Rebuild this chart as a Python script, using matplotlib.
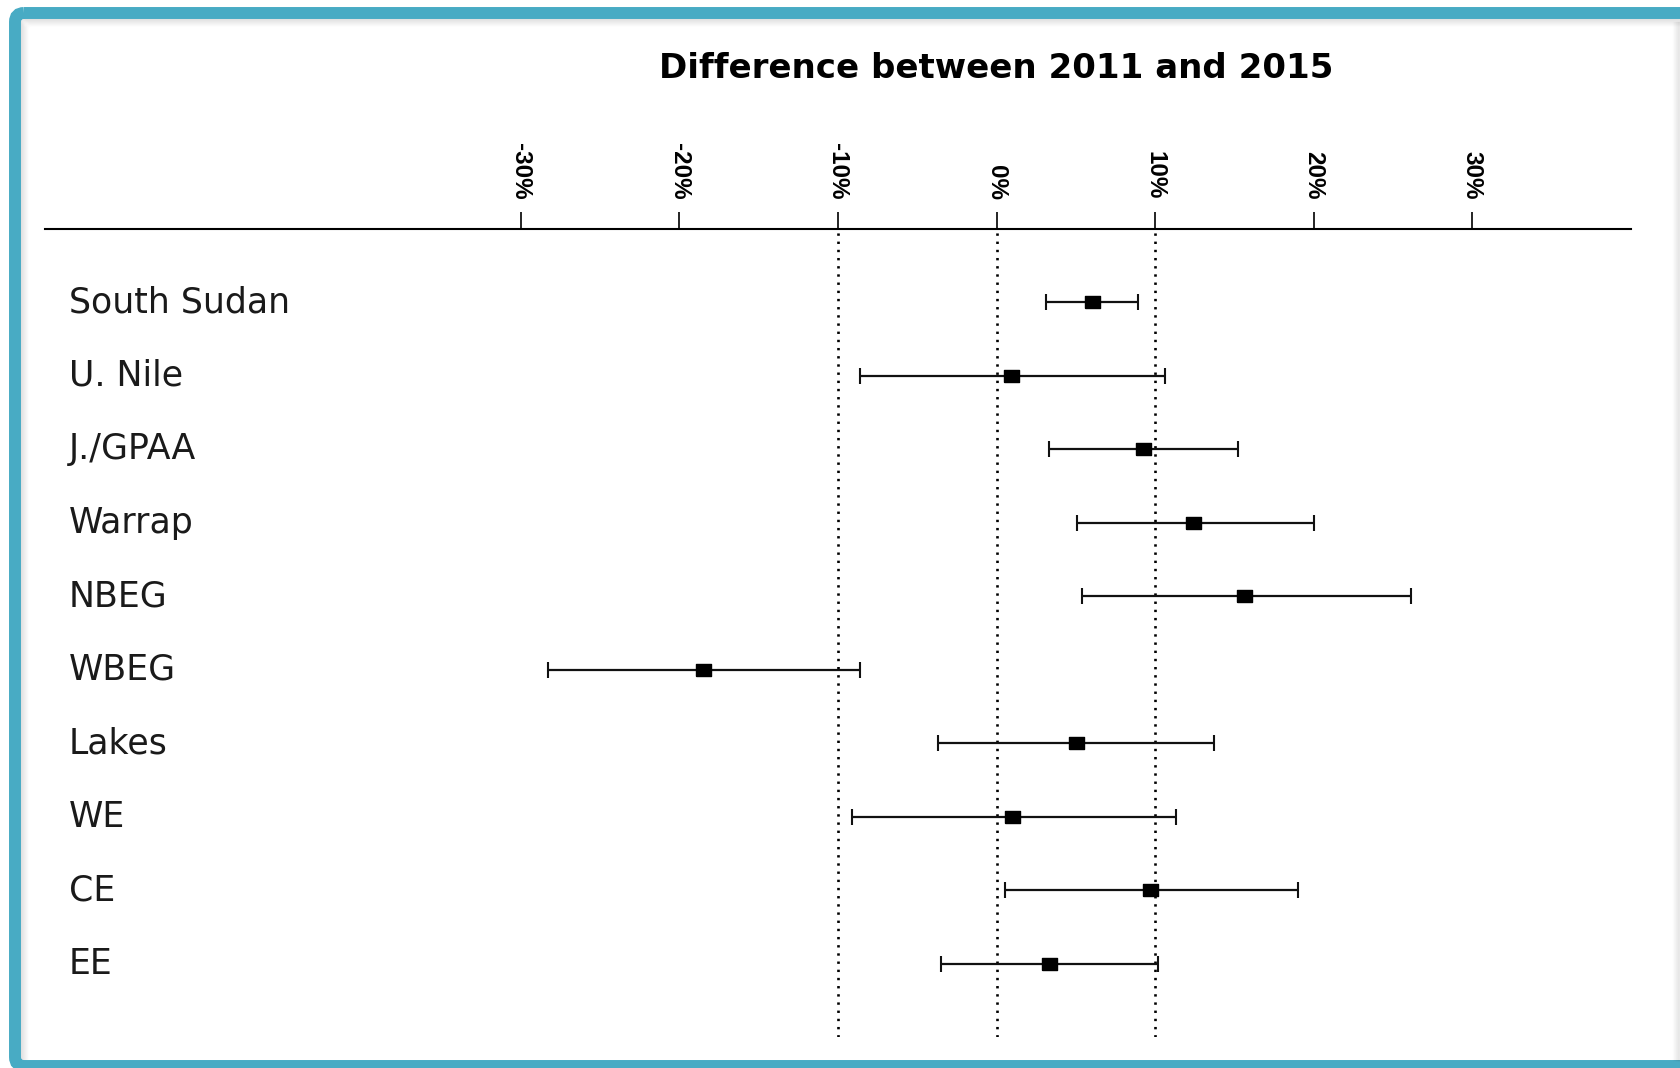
import matplotlib.pyplot as plt
import matplotlib.transforms as mtransforms
from matplotlib.patches import FancyBboxPatch
import numpy as np

# regions, top to bottom
regions = ['South Sudan', 'U. Nile', 'J./GPAA', 'Warrap', 'NBEG',
           'WBEG', 'Lakes', 'WE', 'CE', 'EE']

# percentage point change 2011 -> 2015 with confidence limits
diff = [6.0, 0.9, 9.2, 12.4, 15.6, -18.5, 5.0, 1.0, 9.7, 3.3]
lower = [3.1, -8.6, 3.3, 5.1, 5.4, -28.3, -3.7, -9.1, 0.5, -3.5]
upper = [8.9, 10.6, 15.2, 20.0, 26.1, -8.6, 13.7, 11.3, 19.0, 10.2]

tick_vals = [-30, -20, -10, 0, 10, 20, 30]
tick_labels = ['-30%', '-20%', '-10%', '0%', '10%', '20%', '30%']
ref_lines = [-10, 0, 10]

W, H = 1680, 1068
fig = plt.figure(figsize=(W / 100, H / 100), dpi=100)

# teal page frame with a soft inner shadow
frame_ax = fig.add_axes([0, 0, 1, 1], zorder=-1)
frame_ax.set_xlim(0, W)
frame_ax.set_ylim(H, 0)
frame_ax.axis('off')
for k in range(8):
    frame_ax.add_patch(FancyBboxPatch(
        (21 + k, 19 + k), 1800, 1100, boxstyle='round,pad=0,rounding_size=4',
        fill=False, ec='black', lw=1.0, alpha=0.09 * (8 - k) / 8))
frame_ax.add_patch(FancyBboxPatch(
    (15, 13), 1800, 1053, boxstyle='round,pad=0,rounding_size=9',
    fill=False, ec='#48abc4', lw=8.6))
for k in range(7):
    frame_ax.plot([W - 1 - k, W - 1 - k], [22, H - 8], color='black',
                  lw=1.0, alpha=0.08 * (7 - k) / 7)

# main plotting region
ax = fig.add_axes([45 / W, 31 / H, 1586 / W, 808 / H])
ax.set_xlim(-60, 40)
ax.set_ylim(len(regions), -1)

y = np.arange(len(regions))
d = np.array(diff)
lo = np.array(lower)
hi = np.array(upper)

for v in ref_lines:
    ax.axvline(v, color='black', lw=1.9, linestyle=(0, (0.9, 2.2)), zorder=1)

ax.errorbar(d, y, xerr=[d - lo, hi - d], fmt='none', ecolor='#111111',
            elinewidth=1.6, capsize=5.8, capthick=1.5, zorder=2)
box = [(-1, -0.8), (1, -0.8), (1, 0.8), (-1, 0.8), (-1, -0.8)]
ax.plot(d, y, linestyle='none', marker=box, markersize=10.8,
        color='black', zorder=3)

# category labels at the left edge
lab_tr = mtransforms.blended_transform_factory(ax.transAxes, ax.transData)
for i, name in enumerate(regions):
    ax.text(0.0151, i, name, transform=lab_tr, ha='left', va='center',
            fontsize=25, color='#1a1a1a', family='DejaVu Sans')

# axis on top
ax.xaxis.tick_top()
ax.set_xticks(tick_vals)
ax.set_xticklabels(tick_labels, rotation=-90, fontsize=17.5,
                   fontweight='bold', family='Liberation Sans')
ax.tick_params(axis='x', direction='out', length=12.2, width=1.2, pad=9)
ax.set_yticks([])
for side in ['bottom', 'left', 'right']:
    ax.spines[side].set_visible(False)
ax.spines['top'].set_linewidth(1.5)

title_tr = mtransforms.blended_transform_factory(ax.transData, ax.transAxes)
ax.text(0, 1.199, 'Difference between 2011 and 2015', transform=title_tr,
        ha='center', va='center', fontsize=24.5, fontweight='bold',
        family='DejaVu Sans')

fig.savefig('out.png', dpi=100)
